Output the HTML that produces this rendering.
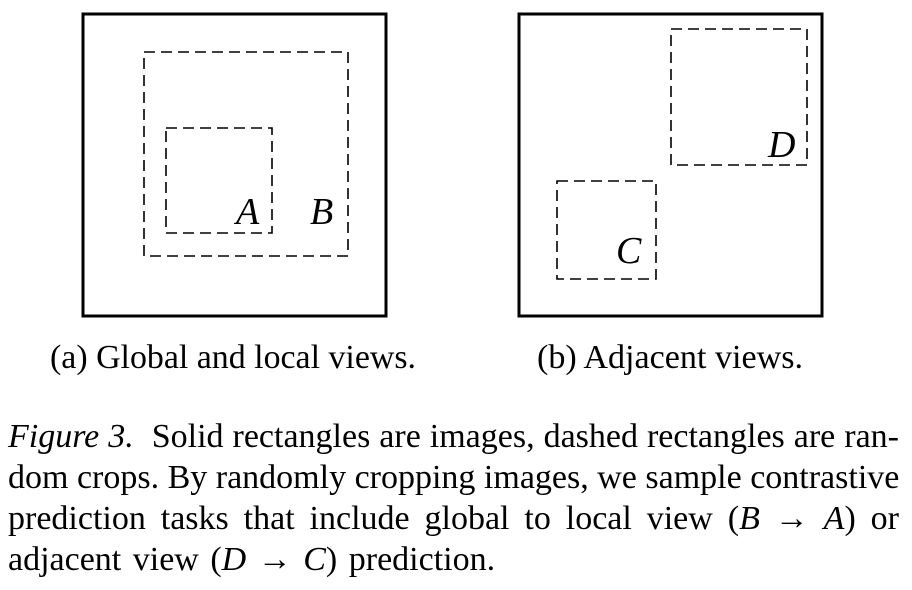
<!DOCTYPE html>
<html><head><meta charset="utf-8"><style>
body{margin:0;width:912px;height:590px;background:#fff;position:relative;font-family:"Liberation Serif",serif;color:#000;overflow:hidden}
svg{position:absolute;left:0;top:0}
.p{position:absolute;left:8px;width:891px;font-size:34px;line-height:41px;text-align:justify;text-align-last:justify;white-space:nowrap}
i{font-style:italic}
</style></head><body>
<svg width="912" height="590">
<g fill="none" stroke="#000">
<rect x="83" y="14" width="303" height="302" stroke-width="3"/>
<rect x="519" y="14" width="303" height="302" stroke-width="3"/>
<g stroke-width="1.6" stroke-dasharray="11,6">
<rect x="144" y="52" width="204" height="204"/>
<rect x="166" y="128" width="106" height="105"/>
<rect x="671" y="29" width="136" height="136"/>
<rect x="557" y="181" width="99" height="98"/>
</g></g>
<g font-family="Liberation Serif,serif" font-style="italic" font-size="38">
<text x="236" y="224">A</text>
<text x="310" y="224">B</text>
<text x="768" y="157">D</text>
<text x="616" y="263">C</text>
</g>
<g font-family="Liberation Serif,serif" font-size="33.5">
<text x="50" y="368" textLength="366" lengthAdjust="spacingAndGlyphs">(a) Global and local views.</text>
<text x="537" y="368" textLength="266" lengthAdjust="spacingAndGlyphs">(b) Adjacent views.</text>
</g>
</svg>
<div class="p" style="top:416px"><i>Figure 3.</i>&nbsp; Solid rectangles are images, dashed rectangles are ran-</div>
<div class="p" style="top:457px">dom crops. By randomly cropping images, we sample contrastive</div>
<div class="p" style="top:498px">prediction tasks that include global to local view (<i>B</i> → <i>A</i>) or</div>
<div class="p" style="top:539px;text-align-last:left;width:auto;word-spacing:3px">adjacent view (<i>D</i> → <i>C</i>) prediction.</div>
</body></html>
